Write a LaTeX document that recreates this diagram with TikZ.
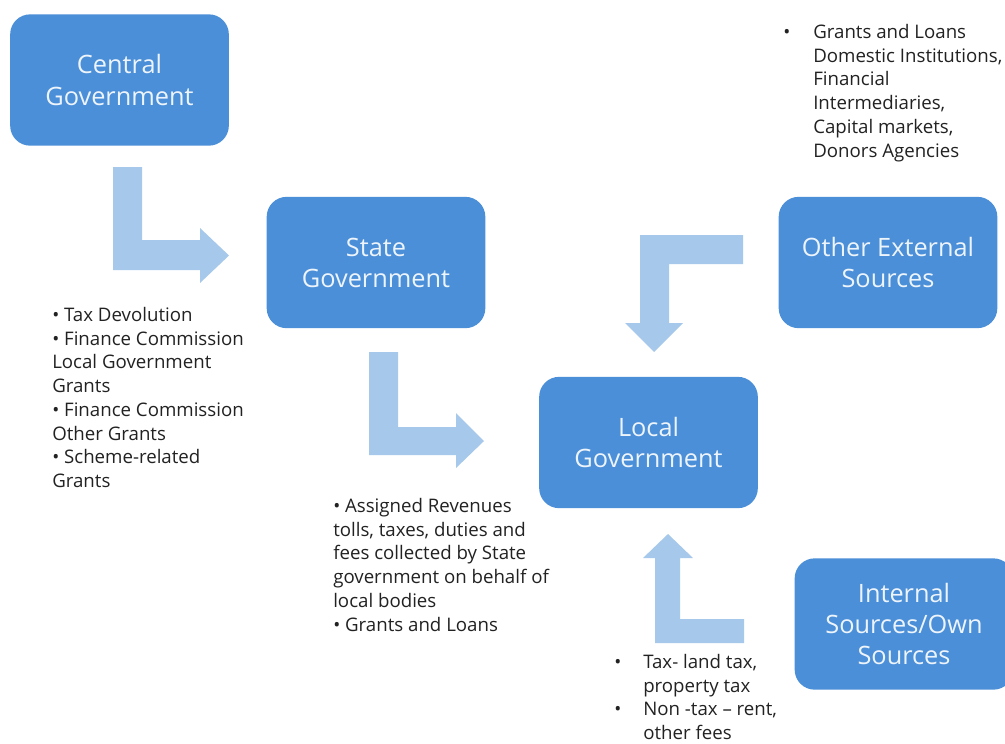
\documentclass[tikz,border=0pt]{standalone}
\usepackage{fontspec}
\setmainfont{Open Sans}
\definecolor{boxblue}{HTML}{4A8FD8}
\definecolor{boxtext}{HTML}{EEF4FB}
\definecolor{flowblue}{HTML}{A6C8EB}
\definecolor{notetext}{HTML}{222222}
\begin{document}
\begin{tikzpicture}[x=0.75pt,y=-0.75pt]
\tikzset{
  govbox/.style={rectangle, rounded corners=15pt, fill=boxblue, text=boxtext,
    minimum width=164pt, minimum height=98.5pt, inner sep=0pt, align=center,
    font=\fontsize{19}{23.3}\selectfont},
  flow/.style={fill=flowblue},
  notes/.style={anchor=north west, inner sep=0pt, align=left, text=notetext,
    font=\fontsize{14}{17.8}\selectfont}
}
\useasboundingbox (0,0) rectangle (1005,743);
\fill[white] (0,0) rectangle (1005,743);

% funding bodies
\node[govbox] (central)  at (119.5,80)  {Central\\Government};
\node[govbox] (state)    at (376,262.5) {State\\Government};
\node[govbox] (local)    at (648.5,442.5) {Local\\Government};
\node[govbox] (external) at (888,262.5) {Other External\\Sources};
\node[govbox] (internal) at (904,624)   {Internal\\Sources/Own\\Sources};

% bent block arrows showing the flow of funds
\fill[flow] (113,167) -- (142,167) -- (142,240) -- (200,240) -- (200,228)
  -- (229,255.5) -- (200,283) -- (200,270) -- (113,270) -- cycle;
\fill[flow] (369,352) -- (398,352) -- (398,427) -- (456,427) -- (456,413)
  -- (484,441) -- (456,468) -- (456,455) -- (369,455) -- cycle;
\fill[flow] (743,235) -- (743,264) -- (669,264) -- (669,323) -- (683,323)
  -- (654,352) -- (625,323) -- (640,323) -- (640,235) -- cycle;
\fill[flow] (744,619) -- (744,643) -- (655,643) -- (655,558) -- (643,558)
  -- (668,534) -- (693,558) -- (680,558) -- (680,619) -- cycle;

% notes on each source of funds
\node[notes] (centralnotes) at (52,307) {%
  • Tax Devolution\\
  • Finance Commission\\
  Local Government\\
  Grants\\
  • Finance Commission\\
  Other Grants\\
  • Scheme-related\\
  Grants};
\node[notes] (statenotes) at (333,498) {%
  • Assigned Revenues\\
  tolls, taxes, duties and\\
  fees collected by State\\
  government on behalf of\\
  local bodies\\
  • Grants and Loans};
\node[notes] (externalnotes) at (813,24) {%
  \llap{\makebox[22.5pt][l]{•}}Grants and Loans\\
  Domestic Institutions,\\
  Financial\\
  Intermediaries,\\
  Capital markets,\\
  Donors Agencies};
\node[notes] (internalnotes) at (643,654) {%
  \llap{\makebox[21.75pt][l]{•}}Tax- land tax,\\
  property tax\\
  \llap{\makebox[21.75pt][l]{•}}Non -tax – rent,\\
  other fees};
\end{tikzpicture}
\end{document}
